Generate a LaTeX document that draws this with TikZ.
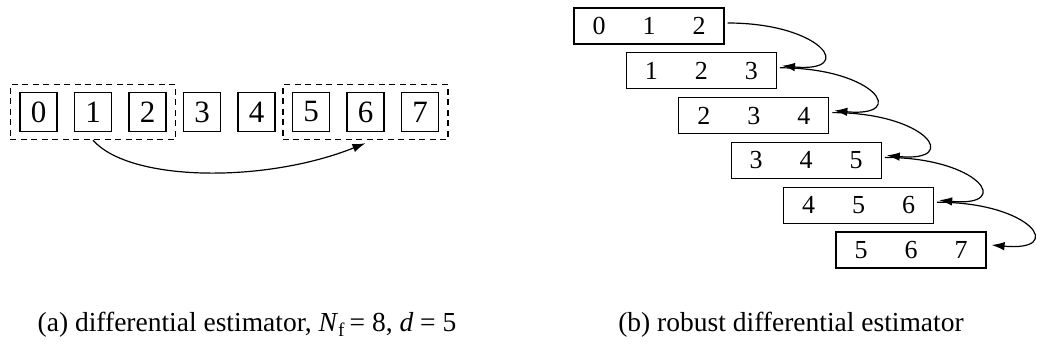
\documentclass[tikz,border=0pt]{standalone}
\usepackage{fontspec}
\setmainfont{Liberation Serif}
\usetikzlibrary{arrows.meta,fit,calc}
\newcommand\tripl[3]{\makebox[50pt]{#1}\makebox[50pt]{#2}\makebox[50pt]{#3}}
\begin{document}
\begin{tikzpicture}[x=1pt,y=-1pt,
  sq/.style={draw,line width=1.1pt,minimum width=37pt,minimum height=39pt,inner sep=0pt,font=\fontsize{31}{36}\selectfont},
  grp/.style={draw,line width=1.3pt,dash pattern=on 6pt off 4.5pt,inner xsep=9pt,inner ysep=7.5pt},
  row/.style={draw,line width=1.1pt,minimum width=146pt,minimum height=36pt,inner sep=0pt,font=\fontsize{26}{32}\selectfont},
  arr/.style={line width=1.2pt,-{Latex[length=13pt,width=8.5pt]}},
  captxt/.style={font=\fontsize{27.5}{32}\selectfont,anchor=base}]
\useasboundingbox (0,0) rectangle (1037,347);
% (a)
\foreach \i in {0,...,7}{
  \node[sq] (a\i) at (38.5+54.5*\i,112) {\i};
}
\node[grp,fit=(a0)(a2)] (g1) {};
\node[grp,fit=(a5)(a7)] (g2) {};
\coordinate (s1) at (g1.south -| a1);
\coordinate (e1) at ([yshift=-3pt]g2.south -| a6);
\draw[arr] (s1) .. controls +(37,42) and +(-100,40) .. (e1);
% (b)
\node[row] (b0) at (649,26) {\tripl{0}{1}{2}};
\node[row] (b1) at (701.4,70.8) {\tripl{1}{2}{3}};
\node[row] (b2) at (753.8,115.6) {\tripl{2}{3}{4}};
\node[row] (b3) at (806.2,160.4) {\tripl{3}{4}{5}};
\node[row] (b4) at (858.6,205.2) {\tripl{4}{5}{6}};
\node[row] (b5) at (911,250) {\tripl{5}{6}{7}};
\foreach \i/\j in {0/1,1/2,2/3,3/4,4/5}{
  \draw[arr] ([shift={(3pt,3pt)}]b\i.east) .. controls +(95,0) and +(75,7) .. ([shift={(5pt,5pt)}]b\j.east);
}
% captions
\node[captxt] (ca) at (247,332) {(a) differential estimator, \textit{N}\textsubscript{f}\,= 8, \textit{d} = 5};
\node[captxt] (cb) at (791,332) {(b) robust differential estimator};
\end{tikzpicture}
\end{document}
